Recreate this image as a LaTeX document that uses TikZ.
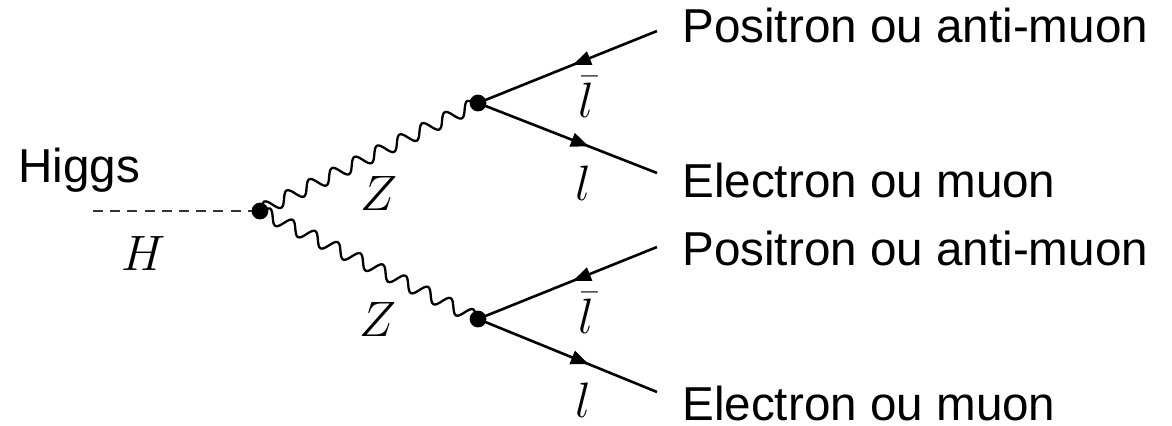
\documentclass[tikz,border=0pt]{standalone}
\usepackage{fontspec}
\setmainfont{Liberation Sans}
\usetikzlibrary{decorations.pathmorphing,decorations.markings,arrows.meta}
\begin{document}
\begin{tikzpicture}[x=0.5pt,y=-0.5pt,
  txt/.style={anchor=base west,inner sep=0pt,font=\fontsize{23.8}{28}\selectfont},
  mlab/.style={inner sep=0pt,font=\fontsize{24.5}{28}\selectfont},
  higgsline/.style={line width=1.3pt,dash pattern=on 5pt off 3.6pt,black!80},
  boson/.style={line width=1.15pt,decorate,decoration={snake,amplitude=3.3pt,segment length=12.6pt}},
  fermion/.style={line width=1.3pt,postaction={decorate},
    decoration={markings,mark=at position #1 with {\arrow{Triangle[length=9pt,width=7pt]}}}},
  vdot/.style={fill=black}
]
\path[use as bounding box] (0,0) rectangle (1172,425);
% vertices and free ends
\coordinate (hs) at (93,211);
\coordinate (v0) at (260,211);
\coordinate (v1) at (478,103);
\coordinate (v2) at (478,319);
\coordinate (e1) at (657,31);
\coordinate (e2) at (657,173);
\coordinate (e3) at (657,247);
\coordinate (e4) at (657,392);
% propagators
\draw[higgsline] (hs) -- (v0);
\draw[boson] (v0) -- (v1);
\draw[boson] (v0) -- (v2);
\draw[fermion=0.47] (e1) -- (v1);
\draw[fermion=0.62] (v1) -- (e2);
\draw[fermion=0.47] (e3) -- (v2);
\draw[fermion=0.62] (v2) -- (e4);
\fill[vdot] (v0) circle (4.2pt);
\fill[vdot] (v1) circle (4.2pt);
\fill[vdot] (v2) circle (4.2pt);
% math labels
\node[mlab] (lH) at (144,253) {$H$};
\node[mlab] (lZ1) at (379,193) {$Z$};
\node[mlab] (lZ2) at (378,319) {$Z$};
\node[mlab] (lb1) at (586,97) {$\bar{l}$};
\node[mlab] (ll1) at (583,183) {$l$};
\node[mlab] (lb2) at (586,313) {$\bar{l}$};
\node[mlab] (ll2) at (583,400) {$l$};
% text labels
\node[txt] (higgs) at (18,182) {Higgs};
\node[txt] (t1) at (682,42) {Positron ou anti-muon};
\node[txt] (t2) at (682,197) {Electron ou muon};
\node[txt] (t3) at (682,265) {Positron ou anti-muon};
\node[txt] (t4) at (682,420) {Electron ou muon};
\end{tikzpicture}
\end{document}
